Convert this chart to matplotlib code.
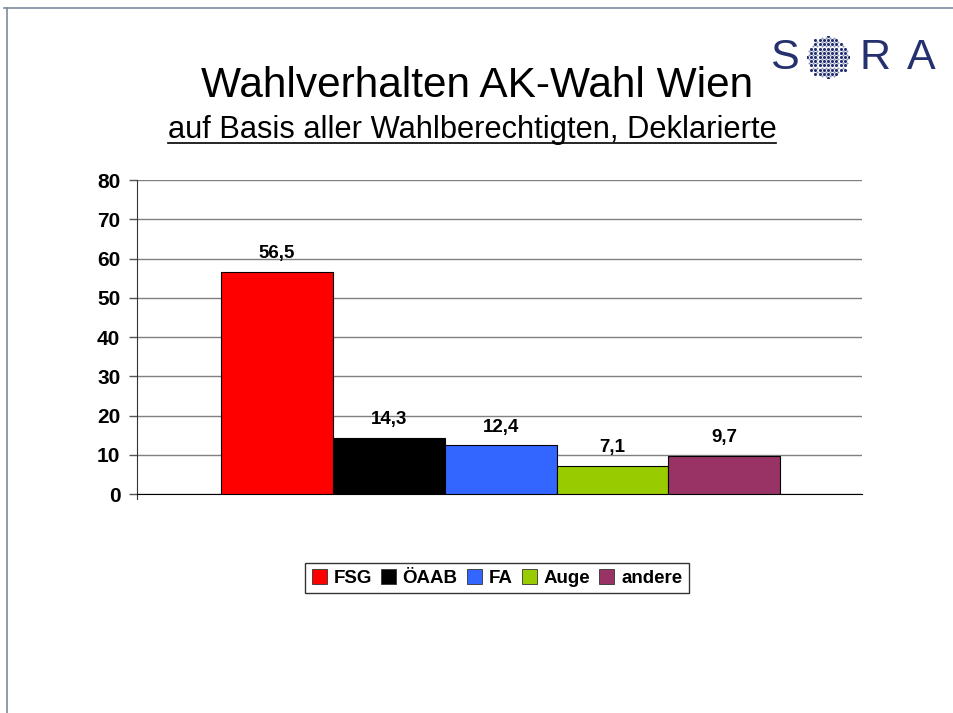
import numpy as np
import matplotlib
matplotlib.use("Agg")
import matplotlib.pyplot as plt
from matplotlib.lines import Line2D

plt.rcParams['font.family'] = ['Liberation Sans', 'DejaVu Sans']

parties = ['FSG', 'ÖAAB', 'FA', 'Auge', 'andere']
shares = [56.5, 14.3, 12.4, 7.1, 9.7]
labels = ['56,5', '14,3', '12,4', '7,1', '9,7']
colors = ['#ff0000', '#000000', '#3366ff', '#99cc00', '#993366']
yticks = [0, 10, 20, 30, 40, 50, 60, 70, 80]

W, H = 954, 713
fig = plt.figure(figsize=(9.54, 7.13), dpi=100)

# slide frame
fig.add_artist(Line2D([4 / W, 1], [1 - 8 / H, 1 - 8 / H], color='#7f8aa0', lw=1.2))
fig.add_artist(Line2D([7 / W, 7 / W], [0, 1 - 8 / H], color='#7f8aa0', lw=1.2))

# titles
fig.text(477 / W, 1 - 86 / H, 'Wahlverhalten AK-Wahl Wien', ha='center', va='center',
         fontsize=30.5, color='#000000')
fig.text(472 / W, 1 - 130 / H, 'auf Basis aller Wahlberechtigten, Deklarierte',
         ha='center', va='center', fontsize=22.2)
fig.add_artist(Line2D([168 / W, 776 / W], [1 - 143 / H, 1 - 143 / H], color='black', lw=1.2))

# SORA logo
navy = '#25306e'
for ch, x in [('S', 784), ('R', 875), ('A', 921)]:
    fig.text(x / W, 1 - 58 / H, ch, ha='center', va='center', fontsize=31, color=navy)
lax = fig.add_axes([807 / W, 1 - 78 / H, 42 / W, 42 / H])
lax.set_xlim(-1, 1)
lax.set_ylim(-1, 1)
lax.axis('off')
g = np.linspace(-1, 1, 11)
gx, gy = np.meshgrid(g, g)
m = gx ** 2 + gy ** 2 <= 1.0
lax.scatter(gx[m], gy[m], s=5, color=navy, linewidths=0)
gx2, gy2 = gx[:-1, :-1] + 0.1, gy[:-1, :-1] + 0.1
m2 = gx2 ** 2 + gy2 ** 2 <= 0.95
lax.scatter(gx2[m2], gy2[m2], s=2, color='#8c93b8', linewidths=0)

# chart
ax = fig.add_axes([137 / W, 1 - 494 / H, 725 / W, 314 / H])
x = np.arange(len(parties))
bars = ax.bar(x, shares, width=1.0, color=colors, edgecolor='black', linewidth=0.8,
              label=parties, zorder=3)
for xi, v, lab in zip(x, shares, labels):
    ax.text(xi, v + 2.5, lab, ha='center', va='bottom', fontsize=13.5, fontweight='bold')

ax.set_xlim(-1.25, 5.23)
ax.set_ylim(0, 80)
ax.set_yticks(yticks)
ax.set_yticklabels([str(t) for t in yticks], fontsize=15, fontweight='bold')
ax.yaxis.grid(True, color='#808080', lw=1.0, zorder=0)
ax.set_xticks([])
ax.tick_params(axis='y', length=6, width=1, color='#555555', pad=6)
for s in ['top', 'right']:
    ax.spines[s].set_visible(False)
ax.spines['left'].set_color('#333333')
ax.spines['bottom'].set_color('black')
ax.spines['left'].set_bounds(-1.2, 80)

handles = [plt.Rectangle((0, 0), 1, 1, facecolor=c, edgecolor='#333333', lw=0.6) for c in colors]
leg = fig.legend(handles, parties, loc='center', bbox_to_anchor=(497 / W, 1 - 578 / H),
                 ncol=5, prop={'weight': 'bold', 'size': 13.5},
                 frameon=True, fancybox=False, edgecolor='black', handlelength=0.8,
                 handleheight=0.8, handletextpad=0.35, columnspacing=0.5,
                 borderpad=0.35)
leg.get_frame().set_linewidth(1.0)

fig.savefig('out.png', dpi=100, facecolor='white')
